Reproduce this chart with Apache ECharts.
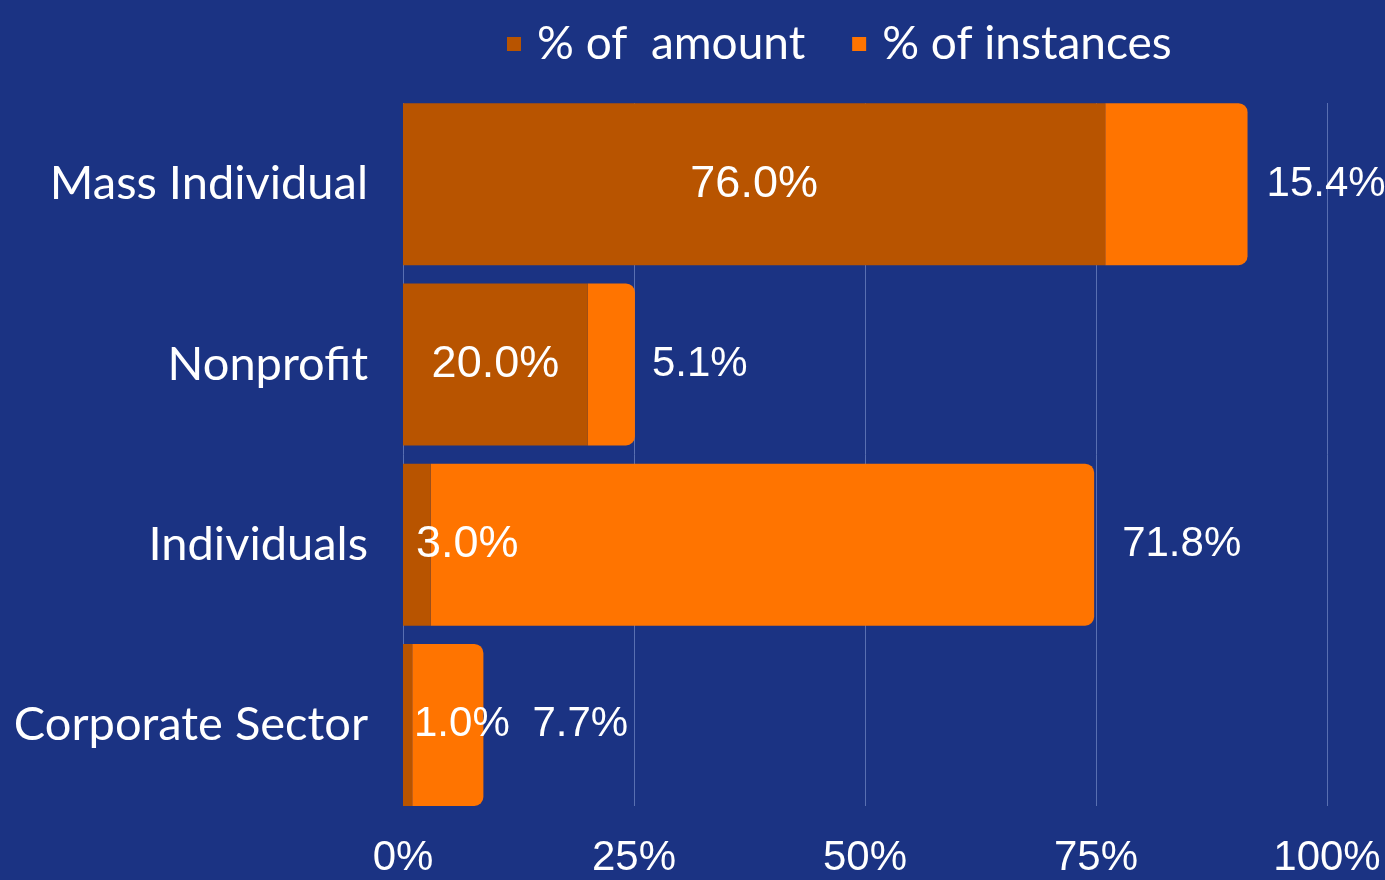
<!DOCTYPE html>
<html>
<head>
<meta charset="utf-8">
<script src="https://cdn.jsdelivr.net/npm/echarts@6/dist/echarts.min.js"></script>
<style>
html,body{margin:0;padding:0;background:#1b3383;}
#chart{width:1385px;height:880px;}
</style>
</head>
<body>
<div id="chart"></div>
<script>
const categories = ['Mass Individual', 'Nonprofit', 'Individuals', 'Corporate Sector'];
const amountPct = [76.0, 20.0, 3.0, 1.0];
const instancesPct = [15.4, 5.1, 71.8, 7.7];
const tickValues = [0, 25, 50, 75, 100];
const seriesNames = ['% of  amount', '% of instances'];

const amountLabelPos = ['inside', 'inside', [13, '50%'], [11, '50%']];
const amountLabelSize = [45, 45, 45, 42];
const instLabelDist = [19, 17, 28, 49];

const chart = echarts.init(document.getElementById('chart'));
const white = '#ffffff';
const catFont = 'Lato, "Open Sans", sans-serif';
const numFont = '"Liberation Sans", Arial, sans-serif';

const option = {
  backgroundColor: '#1b3383',
  animation: false,
  legend: {
    data: seriesNames,
    left: 502,
    top: 16,
    icon: 'rect',
    itemWidth: 14,
    itemHeight: 14,
    itemGap: 47,
    textStyle: { color: white, fontSize: 46, fontFamily: catFont, padding: [0, 0, 0, 11] }
  },
  grid: [
    { left: 403, right: 58, top: 94, bottom: 65 },
    { left: 403, right: 58, top: 103, bottom: 74 }
  ],
  xAxis: [
    {
      gridIndex: 0, type: 'value', min: 0, max: 100, interval: 25,
      axisLine: { show: false }, axisTick: { show: false },
      splitLine: { show: false },
      axisLabel: { color: white, fontSize: 42, fontFamily: numFont, margin: 22,
        formatter: v => tickValues.includes(v) ? v + '%' : '' }
    },
    {
      gridIndex: 1, type: 'value', min: 0, max: 100, interval: 25,
      axisLine: { show: false }, axisTick: { show: false }, axisLabel: { show: false },
      splitLine: { show: true, lineStyle: { color: 'rgba(140,160,215,0.55)', width: 1 } }
    }
  ],
  yAxis: [
    {
      gridIndex: 0, type: 'category', data: categories, inverse: true,
      axisLine: { show: false }, axisTick: { show: false },
      axisLabel: { color: white, fontSize: 47, fontFamily: catFont, margin: 35 }
    },
    {
      gridIndex: 1, type: 'category', data: categories, inverse: true, show: false
    }
  ],
  series: [
    {
      name: seriesNames[0], type: 'bar', stack: 'total', xAxisIndex: 0, yAxisIndex: 0,
      barWidth: 162, z: 3,
      itemStyle: { color: '#b85400' },
      data: amountPct.map((v, i) => ({
        value: v,
        label: {
          show: true,
          position: amountLabelPos[i],
          fontSize: amountLabelSize[i],
          align: typeof amountLabelPos[i] === 'string' ? 'center' : 'left',
          verticalAlign: 'middle'
        }
      })),
      label: { color: white, fontSize: 45, fontFamily: numFont, formatter: p => p.value.toFixed(1) + '%' }
    },
    {
      name: seriesNames[1], type: 'bar', stack: 'total', xAxisIndex: 0, yAxisIndex: 0,
      barWidth: 162, z: 2,
      itemStyle: { color: '#ff7400', borderRadius: [0, 9, 9, 0] },
      data: instancesPct.map((v, i) => ({
        value: v,
        label: { show: true, position: 'right', distance: instLabelDist[i] }
      })),
      label: { color: white, fontSize: 42, fontFamily: numFont, formatter: p => p.value.toFixed(1) + '%' }
    }
  ]
};
chart.setOption(option);
</script>
</body>
</html>
